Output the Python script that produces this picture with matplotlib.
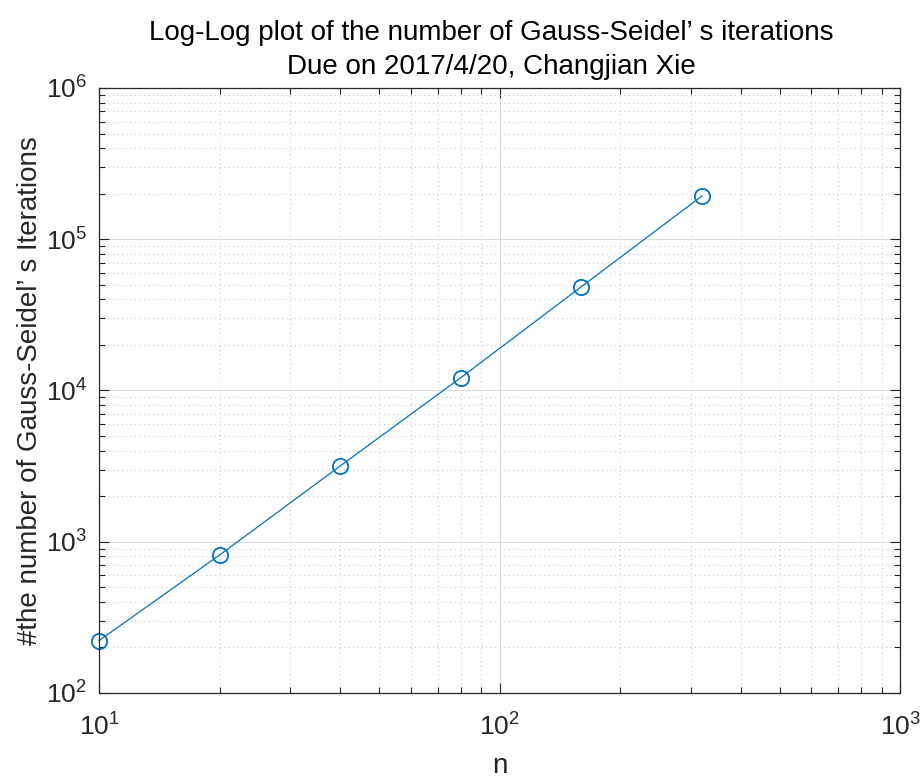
import numpy as np
import matplotlib.pyplot as plt

# data
n = [10, 20, 40, 80, 160, 320]
iterations = [222, 817, 3170, 12150, 48560, 193200]

plt.rcParams['font.family'] = ['Liberation Sans', 'DejaVu Sans']
plt.rcParams['mathtext.fontset'] = 'custom'
plt.rcParams['mathtext.rm'] = 'Liberation Sans'
plt.rcParams['mathtext.it'] = 'Liberation Sans:italic'

fig = plt.figure(figsize=(9.23, 7.78), dpi=100)
ax = fig.add_axes([0.1073, 0.1093, 0.8680, 0.7776])

ax.loglog(n, iterations, '-o', color='#0072BD', lw=0.9, clip_on=False,
          markersize=11, markerfacecolor='none', markeredgewidth=1.3)

ax.set_xlim(10, 1000)
ax.set_ylim(1e2, 1e6)

ax.grid(True, which='major', color='#dcdcdc', lw=0.8, ls='-')
ax.grid(True, which='minor', color='#c8c8c8', lw=0.8, ls=(0, (1, 3)))
ax.set_axisbelow(True)

ax.tick_params(which='both', direction='in', top=True, right=True,
               labelsize=19, colors='#262626', width=0.8)
ax.tick_params(which='major', length=7)
ax.tick_params(which='minor', length=4)
ax.tick_params(axis='x', which='major', pad=14.5)
ax.tick_params(axis='y', which='major', pad=8.5)
for s in ax.spines.values():
    s.set_color('#262626')
    s.set_linewidth(0.9)

ax.set_title("Log-Log plot of the number of Gauss-Seidel\u2019 s iterations\n"
             "Due on 2017/4/20, Changjian Xie", fontsize=20, color='black',
             linespacing=1.4, pad=10, x=0.49)
ax.set_xlabel('n', fontsize=20, color='#262626', labelpad=9)
ax.set_ylabel("#the number of Gauss-Seidel\u2019 s Iterations", fontsize=20,
              color='#262626', labelpad=2)

fig.savefig('out.png', dpi=100)
